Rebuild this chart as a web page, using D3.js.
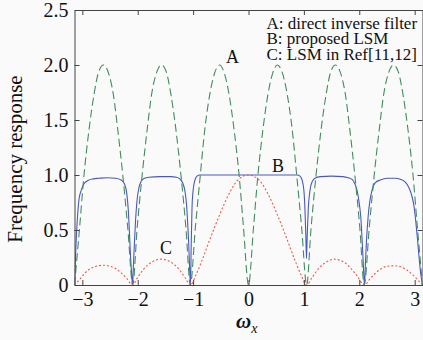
<!DOCTYPE html>
<html>
<head>
<meta charset="utf-8">
<script src="https://cdn.jsdelivr.net/npm/d3@7"></script>
<style>
  html, body { margin: 0; padding: 0; background: #fafafa; }
  svg { display: block; }
  text { font-family: "Liberation Serif", "Times New Roman", serif; fill: #111; }
</style>
</head>
<body>
<svg id="chart" width="423" height="340"></svg>
<script>
// ---- data ----
const xTicks = [-3, -2, -1, 0, 1, 2, 3];
const yTicks = [0, 0.5, 1.0, 1.5, 2.0, 2.5];
const yTickLabels = ["0", "0.5", "1.0", "1.5", "2.0", "2.5"];
const legendLines = ["A: direct inverse filter", "B: proposed LSM", "C: LSM in Ref[11,12]"];
const curveNames = ["A", "B", "C"];

// A: direct inverse filter
const aOmega = [-3.1416, -3.05, -2.97, -2.88, -2.79, -2.71, -2.62, -2.53, -2.44, -2.36, -2.27, -2.18,
  -2.09, -2.01, -1.92, -1.83, -1.75, -1.66, -1.57, -1.48, -1.40, -1.31, -1.22, -1.13,
  -1.05, -0.96, -0.87, -0.79, -0.70, -0.61, -0.52, -0.44, -0.35, -0.26, -0.17, -0.09,
  0, 0.09, 0.17, 0.26, 0.35, 0.44, 0.52, 0.61, 0.70, 0.79, 0.87, 0.96,
  1.05, 1.13, 1.22, 1.31, 1.40, 1.48, 1.57, 1.66, 1.75, 1.83, 1.92, 2.01,
  2.09, 2.18, 2.27, 2.36, 2.44, 2.53, 2.62, 2.71, 2.79, 2.88, 2.97, 3.05, 3.1416];
const aValue = [0, 0.52, 1.0, 1.41, 1.73, 1.93, 2.0, 1.93, 1.73, 1.41, 1.0, 0.52,
  0, 0.52, 1.0, 1.41, 1.73, 1.93, 2.0, 1.93, 1.73, 1.41, 1.0, 0.52,
  0, 0.52, 1.0, 1.41, 1.73, 1.93, 2.0, 1.93, 1.73, 1.41, 1.0, 0.52,
  0, 0.52, 1.0, 1.41, 1.73, 1.93, 2.0, 1.93, 1.73, 1.41, 1.0, 0.52,
  0, 0.52, 1.0, 1.41, 1.73, 1.93, 2.0, 1.93, 1.73, 1.41, 1.0, 0.52,
  0, 0.52, 1.0, 1.41, 1.73, 1.93, 2.0, 1.93, 1.73, 1.41, 1.0, 0.52, 0];

// B: proposed LSM
const bOmega = [-3.1416, -3.12, -3.09, -3.06, -3.02, -2.97, -2.90, -2.80, -2.70, -2.55, -2.40, -2.30, -2.24, -2.20, -2.17, -2.15, -2.13, -2.11, -2.094,
  -2.08, -2.06, -2.04, -2.01, -1.98, -1.94, -1.88, -1.80, -1.60, -1.40, -1.30, -1.24, -1.19, -1.15, -1.12, -1.10, -1.08, -1.065, -1.047,
  -1.035, -1.02, -1.00, -0.97, -0.93, -0.88, 0.88, 0.93, 0.97, 1.00, 1.02, 1.035, 1.047,
  1.06, 1.08, 1.11, 1.15, 1.20, 1.30, 1.50, 1.70, 1.80, 1.87, 1.92, 1.96, 2.00, 2.03, 2.05, 2.07, 2.094,
  2.11, 2.13, 2.16, 2.19, 2.23, 2.29, 2.38, 2.50, 2.65, 2.75, 2.84, 2.90, 2.95, 2.99, 3.02, 3.05, 3.08, 3.11, 3.1416];
const bValue = [0, 0.30, 0.60, 0.78, 0.86, 0.92, 0.95, 0.965, 0.97, 0.975, 0.97, 0.955, 0.92, 0.84, 0.68, 0.48, 0.26, 0.10, 0,
  0.15, 0.38, 0.58, 0.78, 0.88, 0.94, 0.97, 0.98, 0.985, 0.985, 0.98, 0.965, 0.93, 0.86, 0.74, 0.58, 0.38, 0.18, 0,
  0.35, 0.70, 0.86, 0.95, 0.99, 1.0, 1.0, 0.99, 0.95, 0.86, 0.68, 0.45, 0.24,
  0.45, 0.70, 0.86, 0.94, 0.97, 0.985, 0.99, 0.985, 0.975, 0.96, 0.92, 0.86, 0.74, 0.60, 0.42, 0.22, 0,
  0.18, 0.40, 0.62, 0.76, 0.86, 0.93, 0.955, 0.97, 0.97, 0.96, 0.93, 0.88, 0.81, 0.71, 0.58, 0.42, 0.25, 0.10, 0];

// C: LSM in Ref[11,12]
const cOmega = [-3.1416, -3.05, -2.95, -2.85, -2.75, -2.62, -2.50, -2.40, -2.30, -2.20, -2.094,
  -2.0, -1.9, -1.8, -1.7, -1.57, -1.45, -1.35, -1.25, -1.15, -1.047,
  -0.95, -0.85, -0.70, -0.52, -0.35, -0.18, 0, 0.18, 0.35, 0.52, 0.70, 0.85, 0.95, 1.047,
  1.15, 1.25, 1.35, 1.45, 1.55, 1.65, 1.75, 1.85, 1.95, 2.094,
  2.2, 2.3, 2.4, 2.5, 2.63, 2.75, 2.85, 2.95, 3.05, 3.1416];
const cValue = [0, 0.05, 0.11, 0.15, 0.17, 0.18, 0.17, 0.15, 0.11, 0.06, 0,
  0.07, 0.14, 0.19, 0.22, 0.235, 0.22, 0.19, 0.14, 0.07, 0,
  0.09, 0.21, 0.41, 0.64, 0.83, 0.96, 1.0, 0.96, 0.83, 0.64, 0.41, 0.21, 0.09, 0,
  0.07, 0.14, 0.19, 0.22, 0.235, 0.225, 0.20, 0.15, 0.09, 0,
  0.06, 0.11, 0.15, 0.17, 0.175, 0.165, 0.14, 0.10, 0.05, 0];

// ---- layout ----
const plotLeft = 74.5, plotRight = 422.5, plotTop = 10, plotBottom = 285;
const svg = d3.select("#chart");

const x = d3.scaleLinear().domain([-3.1416, 3.1416]).range([plotLeft, plotRight]);
const y = d3.scaleLinear().domain([0, 2.5]).range([plotBottom, plotTop]);

svg.append("defs").append("clipPath").attr("id", "plotclip")
  .append("rect").attr("x", plotLeft).attr("y", plotTop - 1)
  .attr("width", plotRight - plotLeft).attr("height", plotBottom - plotTop + 1);

const line = d3.line().x(d => x(d[0])).y(d => y(d[1])).curve(d3.curveMonotoneX);
const zip = (xs, ys) => xs.map((v, i) => [v, ys[i]]);

const plot = svg.append("g").attr("clip-path", "url(#plotclip)");
plot.append("path").datum(zip(bOmega, bValue)).attr("d", line)
  .attr("fill", "none").attr("stroke", "#4a58bd").attr("stroke-width", 1.1);
plot.append("path").datum(zip(aOmega, aValue)).attr("d", line)
  .attr("fill", "none").attr("stroke", "#3f8d5e").attr("stroke-width", 1.1).attr("stroke-dasharray", "8,4");
plot.append("path").datum(zip(cOmega, cValue)).attr("d", line)
  .attr("fill", "none").attr("stroke", "#ef5a48").attr("stroke-width", 1.1).attr("stroke-dasharray", "2,2");

// axes with inward ticks on all four sides
const tickLen = 5;
const axB = svg.append("g").attr("transform", `translate(0,${plotBottom})`)
  .call(d3.axisBottom(x).tickValues(xTicks).tickSizeInner(-tickLen).tickSizeOuter(0)
    .tickFormat(d => d < 0 ? "\u2212" + Math.abs(d) : String(d)));
const axT = svg.append("g").attr("transform", `translate(0,${plotTop})`)
  .call(d3.axisTop(x).tickValues(xTicks).tickSizeInner(-tickLen).tickSizeOuter(0).tickFormat(""));
const axL = svg.append("g").attr("transform", `translate(${plotLeft},0)`)
  .call(d3.axisLeft(y).tickValues(yTicks).tickSizeInner(-tickLen).tickSizeOuter(0).tickFormat((d, i) => yTickLabels[i]));
const axR = svg.append("g").attr("transform", `translate(${plotRight},0)`)
  .call(d3.axisRight(y).tickValues(yTicks).tickSizeInner(-tickLen).tickSizeOuter(0).tickFormat(""));

[axB, axT, axL, axR].forEach(g => {
  g.select(".domain").attr("stroke", "#444").attr("stroke-width", 1);
  g.selectAll(".tick line").attr("stroke", "#444");
  g.selectAll("text").style("font-family", "'Liberation Serif', serif").attr("fill", "#111");
});
axB.selectAll("text").attr("font-size", 20).attr("dy", null).attr("y", 21);
axL.selectAll("text").attr("font-size", 20).attr("x", -6).attr("dy", "0.33em");

// axis titles
svg.append("text").attr("transform", "translate(22,159) rotate(-90)")
  .attr("text-anchor", "middle").attr("font-size", 21).text("Frequency response");

const xl = svg.append("text").attr("x", 236).attr("y", 328).attr("font-size", 21);
xl.append("tspan").attr("font-style", "italic").attr("font-weight", "bold").text("\u03c9");
xl.append("tspan").attr("font-style", "italic").attr("font-size", 14).attr("dy", 5).text("x");

// legend text
svg.append("g").selectAll("text").data(legendLines).join("text")
  .attr("x", 266.5).attr("y", (d, i) => 28.5 + i * 15.6)
  .attr("font-size", 17).text(d => d);

// curve annotations
const annX = [226, 272, 160];
const annY = [63, 172, 254];
svg.append("g").selectAll("text").data(curveNames).join("text")
  .attr("x", (d, i) => annX[i]).attr("y", (d, i) => annY[i])
  .attr("font-size", 18).text(d => d);
</script>
</body>
</html>
